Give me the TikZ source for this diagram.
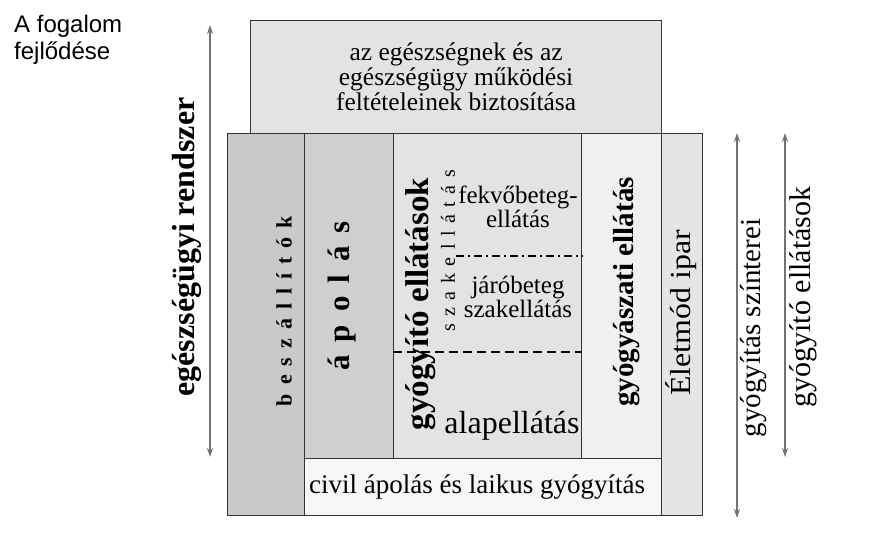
\documentclass[tikz,border=0pt]{standalone}
\usepackage{fontspec}
\setmainfont{Liberation Serif}
\newfontfamily\sansf{Liberation Sans}
\usetikzlibrary{arrows.meta}
\begin{document}
\begin{tikzpicture}[x=1pt,y=-1pt,
  box/.style={draw=black!80, line width=1.2pt, inner sep=0pt, anchor=north west},
  arr/.style={draw=black!55, line width=1.6pt, {Stealth[length=9pt,width=6pt]}-{Stealth[length=9pt,width=6pt]}},
  lbl/.style={inner sep=0pt, align=center}]
\useasboundingbox (0,0) rectangle (869,553);

% boxes
\node[box, fill=black!11, minimum width=411pt, minimum height=113pt, align=center,
      font=\fontsize{25.5}{25}\selectfont] (top) at (250,20)
      {az egészségnek és az\\egészségügy működési\\feltételeinek biztosítása};
\node[box, fill=black!21, minimum width=77pt, minimum height=382pt] (besz) at (227,133) {};
\node[box, fill=black!19, minimum width=89pt, minimum height=325pt] (apol) at (304,133) {};
\node[box, fill=black!11, minimum width=188pt, minimum height=325pt] (gyogy) at (393,133) {};
\node[box, fill=black!6, minimum width=80pt, minimum height=325pt] (gyasz) at (581,133) {};
\node[box, fill=black!10, minimum width=41pt, minimum height=382pt] (elet) at (661,133) {};
\node[box, fill=black!3, minimum width=357pt, minimum height=57pt] (civil) at (304,458) {};
\node[lbl, font=\fontsize{27}{30}\selectfont] (tcivil) at (477,487) {civil ápolás és laikus gyógyítás};

% dividers
\draw[line width=2pt, dash pattern=on 8pt off 4pt on 2pt off 4pt] (456,256) -- (gyogy.east |- 0,256);
\draw[line width=2pt, dash pattern=on 9pt off 5pt] (gyogy.west |- 0,352) -- (gyogy.east |- 0,352);

% texts in columns
\node[lbl, rotate=90, font=\fontsize{22}{26}\selectfont\bfseries] (tbesz) at (284,311)
  {\def\g{\hspace{9pt}}b\g e\g s\g z\g á\g l\g l\g í\g t\g ó\g k};
\node[lbl, rotate=90, font=\fontsize{31}{35}\selectfont\bfseries] (tapol) at (342,296)
  {\def\g{\hspace{13pt}}á\g p\g o\g l\g á\g s};
\node[lbl, rotate=90, font=\fontsize{33}{36}\selectfont\bfseries] (tgyogy) at (421,304) {gyógyító ellátások};
\node[lbl, rotate=90, font=\fontsize{20}{24}\selectfont] (tszak) at (448,251)
  {\def\g{\hspace{7.5pt}}s\g z\g a\g k\g e\g l\g l\g á\g t\g á\g s};
\node[lbl, font=\fontsize{25}{24}\selectfont] (tfekvo) at (518,207) {fekvőbeteg-\\ellátás};
\node[lbl, font=\fontsize{25}{24}\selectfont] (tjaro) at (518,297) {járóbeteg\\szakellátás};
\node[lbl, font=\fontsize{32}{36}\selectfont] (talap) at (512,426) {alapellátás};
\node[lbl, rotate=90, font=\fontsize{29}{32}\selectfont\bfseries] (tgyasz) at (627,292) {gyógyászati ellátás};
\node[lbl, rotate=90, font=\fontsize{29}{32}\selectfont] (telet) at (681,313) {\scalebox{1.1}[1]{Életmód ipar}};

% arrows
\coordinate (la) at (210,25);
\coordinate (lb) at (210,457);
\draw[arr] (la) -- (lb);
\node[lbl, rotate=90, font=\fontsize{32}{36}\selectfont\bfseries] (tegesz) at (187,247) {egészségügyi rendszer};

\coordinate (r1a) at (737,133);
\coordinate (r1b) at (737,518);
\draw[arr] (r1a) -- (r1b);
\node[lbl, rotate=90, font=\fontsize{29}{32}\selectfont] (tszint) at (754,328) {gyógyítás színterei};

\coordinate (r2a) at (785,133);
\coordinate (r2b) at (785,457);
\draw[arr] (r2a) -- (r2b);
\node[lbl, rotate=90, font=\fontsize{30}{33}\selectfont] (tgyell) at (803,297) {gyógyító ellátások};

% title
\node[lbl, anchor=north west, align=left, font=\sansf\fontsize{24}{27}\selectfont] (title) at (14,15) {A fogalom\\fejlődése};
\end{tikzpicture}
\end{document}
